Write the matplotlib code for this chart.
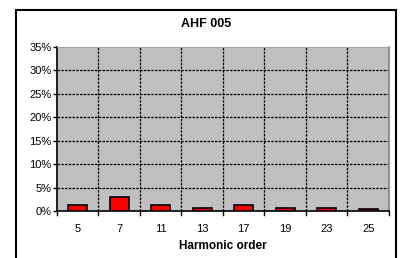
import matplotlib.pyplot as plt
from matplotlib.patches import Rectangle

# Данные
orders = ['5', '7', '11', '13', '17', '19', '23', '25']
values = [1.2, 2.9, 1.2, 0.7, 1.2, 0.7, 0.7, 0.35]
yticks = [0, 5, 10, 15, 20, 25, 30, 35]

W, H = 402, 258
fig = plt.figure(figsize=(W / 100, H / 100), dpi=100)
plt.rcParams['font.family'] = ['Liberation Sans', 'DejaVu Sans']

# Область построения
ax = fig.add_axes([57 / W, 1 - 211 / H, (389 - 57) / W, (211 - 47) / H])
ax.set_facecolor('#c0c0c0')

x = range(len(orders))
ax.bar(x, values, width=0.46, color='#ff0000', edgecolor='black', linewidth=1.2, zorder=3)

ax.set_xlim(-0.5, len(orders) - 0.5)
ax.set_ylim(0, 35)
ax.set_yticks(yticks)
ax.set_yticklabels([f'{v}%' for v in yticks], fontsize=8)
ax.set_xticks(list(x))
ax.set_xticklabels(orders, fontsize=8)
ax.tick_params(axis='x', length=0, pad=9)
ax.tick_params(axis='y', length=3, width=1, direction='out', pad=1)

# Сетка
for v in yticks[1:-1]:
    ax.axhline(v, color='black', linestyle=(0, (2, 1)), linewidth=0.9, zorder=2)
for i in range(1, len(orders)):
    ax.axvline(i - 0.5, color='black', linestyle=(0, (2, 1)), linewidth=0.9, zorder=2)
# Засечки категорий под осью
for i in range(len(orders) + 1):
    ax.plot([i - 0.5, i - 0.5], [0, -0.8], color='black', linewidth=1, clip_on=False)

for s in ['left', 'bottom']:
    ax.spines[s].set_linewidth(1.2)
ax.spines['top'].set_color('#a0a0a0')
ax.spines['right'].set_color('#808080')
ax.spines['right'].set_linewidth(1.2)

ax.set_xlabel('Harmonic order', fontsize=8.5, fontweight='bold', labelpad=5)
fig.text(206 / W, 1 - 24 / H, 'AHF 005', ha='center', va='center',
         fontsize=9, fontweight='bold')

# Рамка диаграммы
fig.patches.append(Rectangle((16 / W, -0.1), (396 - 16) / W, 1.1 - 10 / H,
                             transform=fig.transFigure, fill=False,
                             edgecolor='black', linewidth=1.5))

fig.savefig('out.png', dpi=100)
